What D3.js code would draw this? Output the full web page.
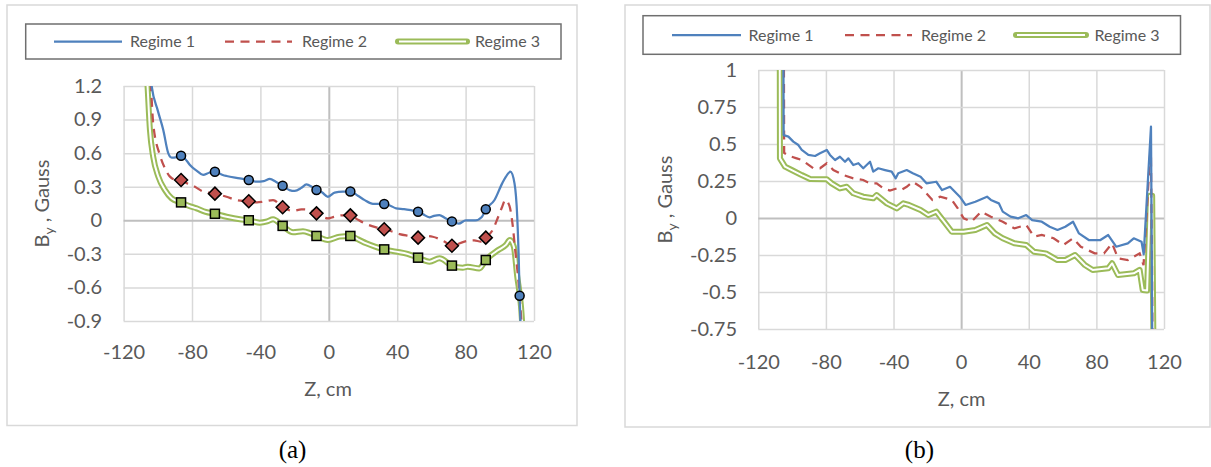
<!DOCTYPE html>
<html>
<head>
<meta charset="utf-8">
<script src="https://cdn.jsdelivr.net/npm/d3@7"></script>
<style>
  body { margin: 0; background: #fff; }
  text { font-family: Lato, "Open Sans", sans-serif; fill: #595959; }
  text.caption { font-family: "Liberation Serif", serif; fill: #000; }
</style>
</head>
<body>
<div id="chart"></div>
<script>
// values, z in cm, By in Gauss

const zTicks = [-120, -80, -40, 0, 40, 80, 120];
const zLabels = ["-120", "-80", "-40", "0", "40", "80", "120"];
const yTicksA = [-0.9, -0.6, -0.3, 0, 0.3, 0.6, 0.9, 1.2];
const yLabelsA = ["-0.9", "-0.6", "-0.3", "0", "0.3", "0.6", "0.9", "1.2"];
const yTicksB = [-0.75, -0.5, -0.25, 0, 0.25, 0.5, 0.75, 1];
const yLabelsB = ["-0.75", "-0.5", "-0.25", "0", "0.25", "0.5", "0.75", "1"];
const seriesNames = ["Regime 1", "Regime 2", "Regime 3"];

// panel (a) lines
const aRegime1 = [[-108, 2.0], [-103.6, 1.2], [-100, 0.98], [-96.8, 0.807], [-93.9, 0.6], [-91.9, 0.56], [-89, 0.565],
  [-86.4, 0.577], [-83, 0.53], [-81.2, 0.494], [-77, 0.44], [-73.5, 0.405], [-70, 0.425], [-66.6, 0.434], [-62, 0.405],
  [-59.8, 0.396], [-52, 0.375], [-46.8, 0.36], [-42.3, 0.345], [-38, 0.35], [-34.5, 0.37], [-31, 0.345], [-27, 0.308],
  [-23, 0.27], [-19.9, 0.262], [-16, 0.29], [-13.1, 0.32], [-10, 0.3], [-7.2, 0.27], [-4, 0.25], [-0.5, 0.21],
  [3.4, 0.247], [8.3, 0.256], [12.6, 0.257], [17, 0.22], [21, 0.18], [25.8, 0.146], [32.4, 0.146], [36, 0.13],
  [39.4, 0.107], [44, 0.1], [48, 0.09], [52.2, 0.077], [55, 0.055], [58.9, 0.027], [61.5, 0.04], [64.7, 0.047],
  [68, 0.02], [72, -0.01], [76, -0.03], [80.1, 0.0], [85.7, 0.0], [89.5, 0.03], [91.8, 0.098], [96.9, 0.181],
  [101.4, 0.33], [103.6, 0.39], [106.2, 0.434], [108.6, 0.33], [110.2, 0.03], [111, -0.3], [111.6, -0.674], [112.6, -1.1]];
const aRegime2 = [[-108, 2.2], [-104, 1.2], [-102.7, 0.866], [-98.8, 0.583], [-95.8, 0.464], [-92.9, 0.39], [-89, 0.36],
  [-86.4, 0.36], [-83, 0.33], [-78.3, 0.3], [-73.5, 0.256], [-66.6, 0.238], [-59.8, 0.21], [-54, 0.181], [-46.8, 0.17],
  [-42, 0.16], [-38.4, 0.166], [-32.6, 0.181], [-27, 0.117], [-20.9, 0.083], [-16, 0.098], [-11.2, 0.092], [-7.2, 0.062],
  [-0.5, 0.018], [3, 0.03], [7.3, 0.044], [12.6, 0.044], [16, 0.015], [20.9, -0.027], [27.7, -0.063], [32.4, -0.08],
  [37, -0.1], [41.4, -0.123], [47.2, -0.14], [52.2, -0.155], [56, -0.14], [60.8, -0.147], [67.6, -0.19], [72, -0.227],
  [79.3, -0.19], [85, -0.18], [89, -0.19], [91.8, -0.155], [95.8, -0.087], [99.1, 0.032], [101.4, 0.121], [103.2, 0.181],
  [105.6, 0.13], [107.4, -0.027], [109, -0.266], [111, -0.563], [112.4, -0.85], [113.4, -1.1]];
const aRegime3 = [[-109, 2.0], [-106, 1.2], [-104.6, 0.807], [-102.7, 0.568], [-99.7, 0.39], [-95.8, 0.27], [-91.9, 0.196],
  [-86.4, 0.16], [-82, 0.13], [-77.3, 0.107], [-72, 0.075], [-66.6, 0.058], [-59.8, 0.032], [-52, 0.009], [-46.8, 0.0],
  [-40.4, -0.021], [-36, -0.01], [-32.6, 0.009], [-27, -0.05], [-20.9, -0.107], [-15.1, -0.098], [-11, -0.115],
  [-7.2, -0.14], [-0.5, -0.176], [6.3, -0.146], [12.6, -0.14], [17, -0.17], [21.9, -0.206], [27, -0.235], [32.4, -0.26],
  [39.4, -0.28], [46, -0.3], [52.2, -0.334], [58.9, -0.37], [64.7, -0.34], [72, -0.405], [78.3, -0.424], [81.2, -0.415],
  [88, -0.43], [91.8, -0.355], [99.1, -0.266], [103.6, -0.22], [105.9, -0.176], [108.2, -0.236], [110.2, -0.504],
  [112.4, -0.77], [113.8, -1.1]];

// panel (a) markers
const aMarkerZ = [-86.4, -66.6, -46.8, -27, -7.2, 12.6, 32.4, 52.2, 72, 91.8, 111.6];
const aMarker1 = [0.577, 0.434, 0.36, 0.308, 0.27, 0.257, 0.146, 0.077, -0.01, 0.098, -0.674];
const aMarker2 = [0.36, 0.238, 0.17, 0.117, 0.062, 0.044, -0.08, -0.155, -0.227, -0.155, null];
const aMarker3 = [0.16, 0.058, 0.0, -0.05, -0.14, -0.14, -0.26, -0.334, -0.405, -0.355, null];

// panel (b) lines
const bRegime1 = [[-105.6, 3], [-105, 0.56], [-102.2, 0.55], [-99.3, 0.516], [-96.3, 0.493], [-94.3, 0.46], [-90.4, 0.426],
  [-86.4, 0.419], [-83.5, 0.437], [-79.5, 0.46], [-77.6, 0.426], [-74.6, 0.392], [-71.7, 0.414], [-68.7, 0.38],
  [-66.7, 0.403], [-63.8, 0.358], [-60.8, 0.37], [-57.9, 0.336], [-53.9, 0.38], [-52, 0.313], [-49, 0.336], [-45, 0.324],
  [-41.1, 0.313], [-38.7, 0.268], [-37.2, 0.302], [-32.2, 0.324], [-28.6, 0.302], [-24, 0.279], [-20.5, 0.234],
  [-14.7, 0.245], [-11.3, 0.189], [-6.6, 0.211], [-0.8, 0.144], [2.6, 0.088], [8.4, 0.11], [15.3, 0.144], [17.6, 0.122],
  [22.3, 0.099], [24.6, 0.043], [29.2, 0.009], [33.8, -0.002], [38.5, 0.02], [42, -0.014], [47.7, -0.025], [52.4, -0.059],
  [57, -0.081], [61.6, -0.059], [66.2, -0.025], [69.7, -0.104], [75.5, -0.149], [82.4, -0.149], [87, -0.115],
  [91.7, -0.194], [98.6, -0.171], [102.1, -0.137], [106.7, -0.16], [108, -0.245], [112.3, 0.617], [112.8, -0.3], [113.2, -1.2]];
const bRegime2 = [[-105.3, 3], [-104.7, 0.44], [-102, 0.42], [-97.3, 0.403], [-94.3, 0.392], [-87.5, 0.336], [-83.5, 0.336],
  [-79.5, 0.37], [-75.6, 0.324], [-69.7, 0.29], [-63.8, 0.268], [-57.9, 0.257], [-53.9, 0.234], [-50, 0.234], [-46, 0.2],
  [-42.1, 0.185], [-38, 0.2], [-35.6, 0.189], [-32.2, 0.211], [-28.6, 0.245], [-24, 0.211], [-17, 0.122], [-12.4, 0.144],
  [-5.5, 0.122], [-2, 0.065], [1.5, -0.002], [6.1, -0.025], [11.9, 0.043], [17.6, 0.009], [24.6, -0.025], [31.5, -0.07],
  [38.5, -0.047], [43.1, -0.126], [47.7, -0.115], [54.7, -0.137], [60.5, -0.182], [66.2, -0.137], [70.8, -0.194],
  [79, -0.239], [84.5, -0.239], [89.3, -0.171], [92.8, -0.273], [98.6, -0.284], [105.6, -0.239], [107.9, -0.318],
  [112.2, 0.505], [112.9, -0.3], [113.4, -1.2]];
const bRegime3 = [[-107.6, 3], [-107.2, 0.403], [-104.2, 0.347], [-100.2, 0.324], [-94.3, 0.29], [-89.4, 0.264],
  [-79.5, 0.262], [-76.6, 0.234], [-71.7, 0.2], [-67.7, 0.211], [-63.8, 0.167], [-57.9, 0.144], [-52, 0.133], [-50, 0.155],
  [-44, 0.099], [-38.1, 0.065], [-34.2, 0.099], [-30.9, 0.088], [-24, 0.054], [-19.4, 0.02], [-14.7, 0.043], [-10.1, -0.025],
  [-5.5, -0.093], [1.5, -0.093], [8.4, -0.081], [15.3, -0.047], [19.9, -0.104], [24.6, -0.137], [31.5, -0.171],
  [38.5, -0.182], [43.1, -0.228], [50.1, -0.239], [57, -0.284], [61.6, -0.284], [67.4, -0.25], [73.2, -0.318],
  [77.8, -0.351], [87, -0.34], [89.3, -0.306], [92.8, -0.385], [102.1, -0.374], [105.6, -0.351], [107.4, -0.486],
  [110, -0.49], [111.7, 0.15], [113, 0.15], [114, -1.2]];

const colors = ["#4f81bd", "#c0504d", "#9bbb59"];

const svg = d3.select("#chart")
  .append("svg")
  .attr("width", 1211)
  .attr("height", 467);

// one chart panel
function drawPanel(p) {
  const g = svg.append("g");

  // chart frame
  g.append("rect")
    .attr("x", p.frame[0]).attr("y", p.frame[1])
    .attr("width", p.frame[2] - p.frame[0]).attr("height", p.frame[3] - p.frame[1])
    .attr("fill", "#fff").attr("stroke", "#d9d9d9").attr("stroke-width", 1.5);

  const x = d3.scaleLinear().domain([-120, 120]).range([p.left, p.right]);
  const y = d3.scaleLinear().domain(p.yDomain).range([p.bottom, p.top]);

  // gridlines
  g.append("g")
    .attr("transform", `translate(0,${p.bottom})`)
    .call(d3.axisBottom(x).tickValues(zTicks).tickSize(-(p.bottom - p.top)).tickFormat(""))
    .call(a => a.select(".domain").remove())
    .selectAll("line")
    .attr("stroke", d => d === 0 ? "#bfbfbf" : "#d9d9d9")
    .attr("stroke-width", d => d === 0 ? 2 : 1.5);
  g.append("g")
    .attr("transform", `translate(${p.left},0)`)
    .call(d3.axisLeft(y).tickValues(p.yTicks).tickSize(-(p.right - p.left)).tickFormat(""))
    .call(a => a.select(".domain").remove())
    .selectAll("line")
    .attr("stroke", d => d === 0 ? "#bfbfbf" : "#d9d9d9")
    .attr("stroke-width", d => d === 0 ? 2 : 1.5);

  // tick labels
  g.append("g")
    .attr("transform", `translate(${p.left},0)`)
    .call(d3.axisLeft(y).tickValues(p.yTicks).tickFormat((d, i) => p.yLabels[i]).tickSize(0).tickPadding(p.left - p.yLabelRight))
    .call(a => a.select(".domain").remove())
    .selectAll("text")
    .style("font-size", "20px").attr("fill", "#595959");
  g.append("g")
    .attr("transform", `translate(0,${p.bottom})`)
    .call(d3.axisBottom(x).tickValues(zTicks).tickFormat((d, i) => zLabels[i]).tickSize(0).tickPadding(p.xLabelPad))
    .call(a => a.select(".domain").remove())
    .selectAll("text")
    .style("font-size", "20px").attr("fill", "#595959");

  // axis titles
  g.append("text")
    .attr("x", p.xTitle[0]).attr("y", p.xTitle[1])
    .attr("text-anchor", "middle")
    .style("font-size", "20px")
    .text("Z, cm");
  const yt = g.append("text")
    .attr("transform", `translate(${p.yTitle[0]},${p.yTitle[1]}) rotate(-90)`)
    .attr("text-anchor", "middle")
    .attr("dy", "0.35em")
    .style("font-size", "20px");
  yt.append("tspan").text("B");
  yt.append("tspan").attr("dy", 5).style("font-size", "14px").text("y");
  yt.append("tspan").attr("dy", -5).text(" , Gauss");

  // clip to plot area
  g.append("clipPath").attr("id", "clip" + p.id)
    .append("rect")
    .attr("x", p.left).attr("y", p.top)
    .attr("width", p.right - p.left).attr("height", p.bottom - p.top);
  const plot = g.append("g").attr("clip-path", `url(#clip${p.id})`);

  const line = d3.line().x(d => x(d[0])).y(d => y(d[1])).curve(p.curve);

  // regime 3: double green line
  plot.append("path").datum(p.series[2])
    .attr("d", line).attr("fill", "none")
    .attr("stroke", colors[2]).attr("stroke-width", 6).attr("stroke-linejoin", "round");
  plot.append("path").datum(p.series[2])
    .attr("d", line).attr("fill", "none")
    .attr("stroke", "#fff").attr("stroke-width", 2).attr("stroke-linejoin", "round");
  // regime 2: dashed red
  plot.append("path").datum(p.series[1])
    .attr("d", line).attr("fill", "none")
    .attr("stroke", colors[1]).attr("stroke-width", 2.25)
    .attr("stroke-dasharray", "9,6.5");
  // regime 1: solid blue
  plot.append("path").datum(p.series[0])
    .attr("d", line).attr("fill", "none")
    .attr("stroke", colors[0]).attr("stroke-width", 2.25).attr("stroke-linejoin", "round");

  // markers (panel a only)
  if (p.markers) {
    const pts = (vals) => aMarkerZ.map((z, i) => [z, vals[i]]).filter(d => d[1] !== null);
    plot.selectAll("rect.sq").data(pts(aMarker3)).join("rect")
      .attr("x", d => x(d[0]) - 4.5).attr("y", d => y(d[1]) - 4.5)
      .attr("width", 9).attr("height", 9)
      .attr("fill", colors[2]).attr("stroke", "#000").attr("stroke-width", 1.5);
    plot.selectAll("path.dm").data(pts(aMarker2)).join("path")
      .attr("d", d => `M${x(d[0])},${y(d[1]) - 6.5}l6.5,6.5l-6.5,6.5l-6.5,-6.5z`)
      .attr("fill", colors[1]).attr("stroke", "#000").attr("stroke-width", 1.5);
    plot.selectAll("circle").data(pts(aMarker1)).join("circle")
      .attr("cx", d => x(d[0])).attr("cy", d => y(d[1])).attr("r", 4.5)
      .attr("fill", colors[0]).attr("stroke", "#000").attr("stroke-width", 1.5);
  }

  // legend
  const L = p.legend;
  g.append("rect")
    .attr("x", L.box[0]).attr("y", L.box[1])
    .attr("width", L.box[2] - L.box[0]).attr("height", L.box[3] - L.box[1])
    .attr("fill", "#fff").attr("stroke", "#6f6f6f").attr("stroke-width", 1.5);
  const ly = (L.box[1] + L.box[3]) / 2;
  seriesNames.forEach((name, i) => {
    const [x0, x1, tx] = L.items[i];
    if (i === 2) {
      g.append("line").attr("x1", x0).attr("x2", x1).attr("y1", ly).attr("y2", ly)
        .attr("stroke", colors[2]).attr("stroke-width", 6).attr("stroke-linecap", "round");
      g.append("line").attr("x1", x0 + 1).attr("x2", x1 - 1).attr("y1", ly).attr("y2", ly)
        .attr("stroke", "#fff").attr("stroke-width", 2);
    } else {
      g.append("line").attr("x1", x0).attr("x2", x1).attr("y1", ly).attr("y2", ly)
        .attr("stroke", colors[i]).attr("stroke-width", 2.25)
        .attr("stroke-dasharray", i === 1 ? "9,6.5" : null);
    }
    g.append("text")
      .attr("x", tx).attr("y", ly).attr("dy", "0.35em")
      .style("font-size", "16px")
      .text(name);
  });

  // panel caption
  svg.append("text")
    .attr("class", "caption")
    .attr("x", p.caption[0]).attr("y", p.caption[1])
    .attr("text-anchor", "middle")
    .style("font-size", "25px")
    .text(p.caption[2]);
}

drawPanel({
  id: "a",
  frame: [7, 5, 577, 425.5],
  left: 123.6, right: 534, top: 86, bottom: 321,
  yDomain: [-0.9, 1.2], yTicks: yTicksA, yLabels: yLabelsA,
  yLabelRight: 102, xLabelPad: 24,
  xTitle: [328, 396], yTitle: [42, 203.5],
  series: [aRegime1, aRegime2, aRegime3],
  curve: d3.curveMonotoneX,
  markers: true,
  legend: { box: [25.7, 24, 561, 59], items: [[54, 122, 130], [225, 292, 302], [398, 467, 475]] },
  caption: [292.5, 458, "(a)"]
});

drawPanel({
  id: "b",
  frame: [625, 5, 1210, 427],
  left: 758.3, right: 1164, top: 70, bottom: 329,
  yDomain: [-0.75, 1], yTicks: yTicksB, yLabels: yLabelsB,
  yLabelRight: 737, xLabelPad: 26,
  xTitle: [961.6, 406], yTitle: [664.5, 199.5],
  series: [bRegime1, bRegime2, bRegime3],
  curve: d3.curveLinear,
  markers: false,
  legend: { box: [643, 15.7, 1180.5, 54.3], items: [[672, 741, 748.5], [845, 912, 921], [1016, 1086, 1094.5]] },
  caption: [919.4, 458, "(b)"]
});
</script>
</body>
</html>
